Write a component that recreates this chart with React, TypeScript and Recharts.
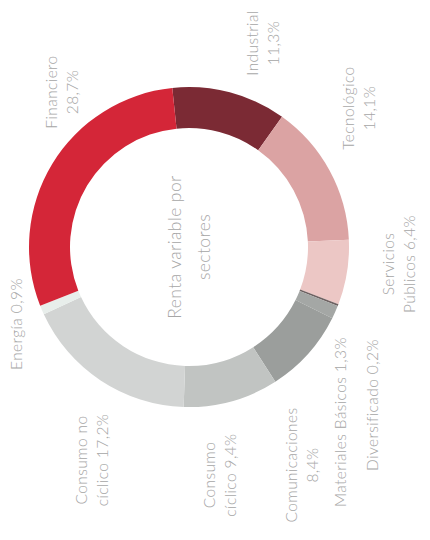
import React from "react";
import { PieChart, Pie, Cell, Label } from "recharts";

// sectors, clockwise from the top
const sectors = [
  "Industrial",
  "Tecnológico",
  "Servicios Públicos",
  "Diversificado",
  "Materiales Básicos",
  "Comunicaciones",
  "Consumo cíclico",
  "Consumo no cíclico",
  "Energía",
  "Financiero",
];
const weights = [11.3, 14.1, 6.4, 0.2, 1.3, 8.4, 9.4, 17.2, 0.9, 28.7];
const labelLines = [
  ["Industrial", "11,3%"],
  ["Tecnológico", "14,1%"],
  ["Servicios", "Públicos 6,4%"],
  ["Diversificado 0,2%"],
  ["Materiales Básicos 1,3%"],
  ["Comunicaciones", "8,4%"],
  ["Consumo", "cíclico 9,4%"],
  ["Consumo no", "cíclico 17,2%"],
  ["Energía 0,9%"],
  ["Financiero", "28,7%"],
];
const colors = [
  "#7b2a34",
  "#dba3a3",
  "#ecc7c5",
  "#6e6262",
  "#a4a7a5",
  "#9b9e9c",
  "#c1c4c2",
  "#d2d4d3",
  "#e8eeeb",
  "#d42638",
];

// where each label block sits (the whole chart reads rotated)
const labelPos: [number, number][] = [
  [262, 43],
  [358, 108],
  [398, 264],
  [372, 405],
  [340, 422],
  [301, 465],
  [219, 475],
  [91, 460],
  [16, 324],
  [61, 92],
];

const data = sectors.map((name, i) => ({ name, value: weights[i] }));

const FONT = "Lato, 'Open Sans', 'DejaVu Sans', sans-serif";
const TEXT_COLOR = "#a6a6a6";

const RotatedLines = ({
  x,
  y,
  lines,
  gap,
  size,
}: {
  x: number;
  y: number;
  lines: string[];
  gap: number;
  size: number;
}) => (
  <g>
    {lines.map((line, i) => {
      const lx = x + (i - (lines.length - 1) / 2) * gap;
      return (
        <text
          key={i}
          x={lx}
          y={y}
          transform={`rotate(-90 ${lx} ${y})`}
          textAnchor="middle"
          dominantBaseline="central"
          fontFamily={FONT}
          fontWeight={300}
          fontSize={size}
          letterSpacing={0.4}
          fill={TEXT_COLOR}
        >
          {line}
        </text>
      );
    })}
  </g>
);

const renderLabel = (props: any) => {
  const { index } = props;
  const [x, y] = labelPos[index];
  return (
    <RotatedLines
      key={`lbl-${index}`}
      x={x}
      y={y}
      lines={labelLines[index]}
      gap={21}
      size={15.5}
    />
  );
};

const CenterText = (props: any) => {
  const { viewBox } = props;
  const cx = viewBox?.cx ?? 189;
  const cy = viewBox?.cy ?? 247;
  return (
    <RotatedLines
      x={cx}
      y={cy}
      lines={["Renta variable por", "sectores"]}
      gap={29}
      size={17.5}
    />
  );
};

export default function App() {
  return (
    <div style={{ width: 430, height: 540, background: "#fff" }}>
      <PieChart
        width={430}
        height={540}
        margin={{ top: 0, right: 0, bottom: 0, left: 0 }}
        style={{ position: "absolute", left: 0, top: 0 }}
      >
        <Pie
          data={data}
          dataKey="value"
          nameKey="name"
          cx={189}
          cy={247}
          innerRadius={119}
          outerRadius={160}
          startAngle={96}
          endAngle={-264}
          stroke="none"
          label={renderLabel}
          labelLine={false}
          isAnimationActive={false}
        >
          {data.map((_, i) => (
            <Cell key={`cell-${i}`} fill={colors[i]} />
          ))}
          <Label position="center" content={<CenterText />} />
        </Pie>
      </PieChart>
    </div>
  );
}
